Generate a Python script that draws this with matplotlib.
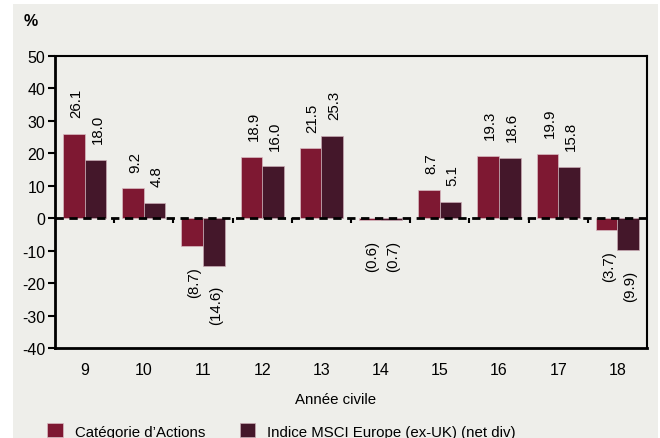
import matplotlib
matplotlib.use("Agg")
import matplotlib.pyplot as plt
from matplotlib.patches import Rectangle
import numpy as np

plt.rcParams['font.family'] = ['Liberation Sans', 'DejaVu Sans']

categories = ['9', '10', '11', '12', '13', '14', '15', '16', '17', '18']
fund = [26.1, 9.2, -8.7, 18.9, 21.5, -0.6, 8.7, 19.3, 19.9, -3.7]
index = [18.0, 4.8, -14.6, 16.0, 25.3, -0.7, 5.1, 18.6, 15.8, -9.9]
series_names = ["Catégorie d\u2019Actions", "Indice MSCI Europe (ex-UK) (net div)"]
colors = ['#7E1832', '#44172A']
yticks = [50, 40, 30, 20, 10, 0, -10, -20, -30, -40]

W, H = 660, 439
fig = plt.figure(figsize=(W / 100, H / 100), dpi=100, facecolor='white')
bg = Rectangle((13 / W, 0), (658 - 13) / W, 1 - 5 / H,
               transform=fig.transFigure, facecolor='#EEEEEA',
               edgecolor='none', zorder=-10)
fig.patches.append(bg)

ax = fig.add_axes([55 / W, 1 - 349 / H, (647 - 55) / W, (349 - 57) / H])
ax.set_zorder(1)
ax.set_facecolor('#EEEEEA')

x = np.arange(len(categories))
bw = 0.365
b1 = ax.bar(x - bw / 2, fund, bw, color=colors[0], edgecolor='#d9bcc3', linewidth=0.5,
            label=series_names[0], zorder=2)
b2 = ax.bar(x + bw / 2, index, bw, color=colors[1], edgecolor='#c8aab3', linewidth=0.5,
            label=series_names[1], zorder=2)

fs = 11.5
lfs = 10.8
for bars, vals in ((b1, fund), (b2, index)):
    for rect, v in zip(bars, vals):
        cx = rect.get_x() + rect.get_width() / 2
        if v >= 0:
            ax.annotate(f"{v:.1f}", (cx, v), xytext=(1.5, 12), textcoords='offset points',
                        rotation=90, ha='center', va='bottom', fontsize=lfs, zorder=4)
        else:
            ax.annotate(f"({abs(v):.1f})", (cx, v), xytext=(1.5, -14), textcoords='offset points',
                        rotation=90, ha='center', va='top', fontsize=lfs, zorder=4)

ax.axhline(0, color='black', lw=2, ls=(0, (3, 2)), zorder=3)
bounds = x[:-1] + 0.5
ax.vlines(bounds, 0, -1.6, color='black', lw=1.5, zorder=3)

ax.set_xlim(-0.5, len(categories) - 0.5)
ax.set_ylim(-40, 50)
ax.set_yticks(yticks)
ax.set_yticklabels([str(t) for t in yticks], fontsize=fs)
ax.set_xticks(x)
ax.set_xticklabels(categories, fontsize=fs)
ax.tick_params(axis='x', length=0, pad=10)
ax.tick_params(axis='y', length=5, width=1.5, pad=2, direction='out')
for s in ax.spines.values():
    s.set_linewidth(1.5)
    s.set_color('black')
ax.spines['left'].set_linewidth(2)
ax.spines['bottom'].set_linewidth(2)

ax.set_xlabel('Année civile', fontsize=lfs)
ax.xaxis.set_label_coords((336 - 55) / 592, (349 - 400) / 292)
ax.xaxis.label.set_va('center')

fig.text(31 / W, 1 - 22 / H, '%', fontsize=fs, fontweight='bold', ha='center', va='center')

leg = fig.legend(handles=[b1, b2], labels=series_names, loc='center left',
                 bbox_to_anchor=(47 / W, 1 - 432 / H), ncol=2, frameon=False,
                 fontsize=lfs, handlelength=1.05, handleheight=1.05, handletextpad=0.8,
                 columnspacing=2.3, borderaxespad=0, borderpad=0)

fig.savefig('out.png', dpi=100, facecolor=fig.get_facecolor())
